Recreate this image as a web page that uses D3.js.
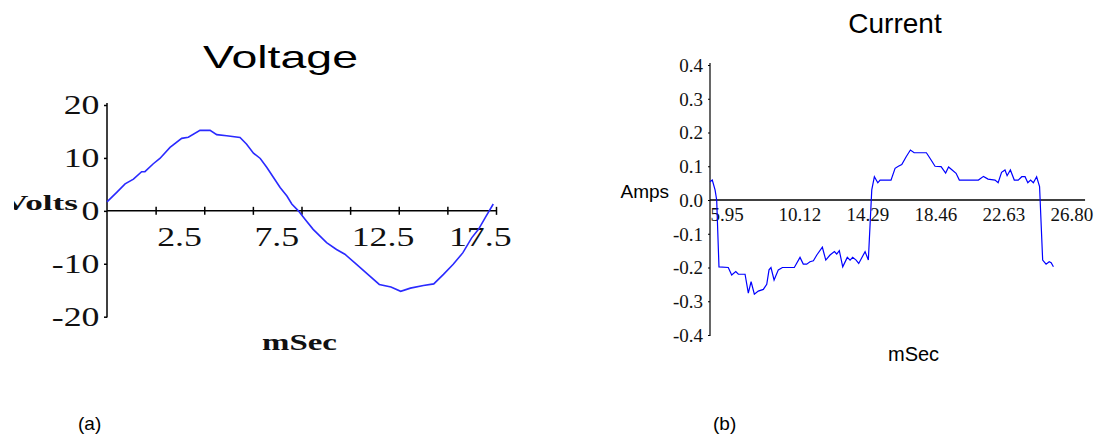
<!DOCTYPE html>
<html>
<head>
<meta charset="utf-8">
<script src="https://cdn.jsdelivr.net/npm/d3@7"></script>
<style>
  html, body { margin: 0; padding: 0; background: #fff; }
  svg { display: block; }
</style>
</head>
<body>
<script>
// ---------- Data ----------
// Voltage (panel a): time in ms, volts
const voltTime = [0, 0.5, 0.93, 1.36, 1.78, 1.95, 2.38, 2.72, 3.24, 3.84, 4.18, 4.78, 5.3, 5.64, 6.15, 6.84, 7.18, 7.53, 7.88, 8.22, 8.56, 8.9, 9.25, 9.5, 9.84, 10.18, 10.6, 11.29, 11.8, 12.23, 12.83, 13.5, 14.0, 14.6, 15.1, 15.6, 16.27, 16.8, 17.3, 17.8, 18.3, 18.75, 19.1, 19.5, 19.86];
const voltValues = [1.7, 3.5, 5.1, 6.0, 7.4, 7.4, 8.9, 9.9, 12.0, 13.7, 13.9, 15.2, 15.2, 14.4, 14.2, 13.85, 12.6, 10.9, 9.9, 8.2, 6.3, 4.4, 2.8, 1.3, 0, -1.6, -3.5, -6.0, -7.3, -8.2, -10.1, -12.3, -13.9, -14.4, -15.2, -14.6, -14.1, -13.8, -12.0, -10.1, -7.9, -5.1, -3.5, -0.95, 1.3];
const voltYTicks = [-20, -10, 0, 10, 20];
const voltXTicks = [2.5, 5, 7.5, 10, 12.5, 15, 17.5, 20];
const voltXLabels = [2.5, 7.5, 12.5, 17.5];

// Current (panel b): time in ms, amps
const currTime = [5.95, 6.09, 6.26, 6.36, 6.50, 7.07, 7.28, 7.53, 7.69, 8.10, 8.30, 8.47, 8.67, 8.91, 9.22, 9.43, 9.57, 9.69, 9.88, 10.14, 10.39, 11.12, 11.47, 11.67, 11.88, 12.08, 12.29, 12.50, 12.84, 13.05, 13.31, 13.58, 13.72, 13.88, 14.09, 14.37, 14.54, 14.70, 14.91, 15.07, 15.46, 15.66, 15.87, 16.03, 16.24, 16.38, 17.05, 17.30, 17.50, 17.71, 17.98, 18.24, 18.47, 19.22, 19.45, 19.75, 20.12, 20.40, 20.58, 20.80, 21.04, 21.24, 22.41, 22.72, 23.00, 23.43, 23.62, 23.83, 24.04, 24.17, 24.37, 24.61, 24.85, 25.07, 25.27, 25.44, 25.61, 25.78, 25.98, 26.16, 26.35, 26.56, 26.75, 26.87, 27.01];
const currValues = [0.054, 0.059, 0.03, 0.0, -0.198, -0.2, -0.222, -0.212, -0.22, -0.22, -0.276, -0.242, -0.279, -0.27, -0.265, -0.25, -0.207, -0.2, -0.237, -0.207, -0.2, -0.2, -0.17, -0.19, -0.19, -0.183, -0.18, -0.163, -0.14, -0.178, -0.163, -0.153, -0.16, -0.15, -0.198, -0.17, -0.178, -0.17, -0.178, -0.188, -0.153, -0.178, 0.03, 0.069, 0.051, 0.059, 0.059, 0.094, 0.1, 0.105, 0.128, 0.148, 0.14, 0.14, 0.123, 0.1, 0.099, 0.08, 0.098, 0.089, 0.079, 0.059, 0.059, 0.07, 0.062, 0.059, 0.051, 0.082, 0.089, 0.072, 0.089, 0.059, 0.059, 0.069, 0.069, 0.051, 0.059, 0.051, 0.069, 0.04, -0.178, -0.19, -0.183, -0.186, -0.198];
const currYTicks = [-0.4, -0.3, -0.2, -0.1, 0.0, 0.1, 0.2, 0.3, 0.4];
const currXTicks = [5.95, 10.12, 14.29, 18.46, 22.63, 26.80];

// ---------- SVG ----------
const svg = d3.select("body").append("svg")
  .attr("width", 1110).attr("height", 439);

const SERIF = "'Liberation Serif', 'Times New Roman', serif";
const SANS = "'Liberation Sans', Arial, Helvetica, sans-serif";

// ===== Panel (a): Voltage =====
const vx = d3.scaleLinear().domain([0, 20]).range([107, 496]);
const vy = d3.scaleLinear().domain([-20, 20]).range([316.7, 105]);
const gA = svg.append("g");

// title
gA.append("text").attr("x", 203).attr("y", 68)
  .attr("font-family", SANS).attr("font-size", 32)
  .attr("textLength", 155).attr("lengthAdjust", "spacingAndGlyphs")
  .text("Voltage");

// y axis
const yAxA = gA.append("g").attr("transform", `translate(${vx(0)},0)`)
  .call(d3.axisLeft(vy).tickValues(voltYTicks).tickSize(3).tickPadding(0)
    .tickFormat(d => String(d).replace("\u2212", "-")));
yAxA.select(".domain").remove();
gA.append("line").attr("x1", vx(0)).attr("x2", vx(0))
  .attr("y1", 103).attr("y2", 317.5).attr("stroke", "#000").attr("stroke-width", 1.5);
yAxA.selectAll(".tick line").attr("stroke-width", 1.5);
yAxA.selectAll(".tick text")
  .attr("x", null).attr("dy", "0.32em")
  .attr("transform", "translate(-7.5,0) scale(1.28,1)")
  .attr("font-family", SERIF).attr("font-size", 28).attr("fill", "#111")
  .attr("text-anchor", "end");

// x axis
const xAxA = gA.append("g").attr("transform", `translate(0,${vy(0)})`)
  .call(d3.axisBottom(vx).tickValues(voltXTicks).tickSize(4).tickPadding(0)
    .tickFormat(d => voltXLabels.includes(d) ? String(d) : ""));
xAxA.select(".domain").remove();
gA.append("line").attr("x1", vx(0)).attr("x2", vx(20))
  .attr("y1", vy(0)).attr("y2", vy(0)).attr("stroke", "#000").attr("stroke-width", 1.5);
xAxA.selectAll(".tick line").attr("y1", -4).attr("y2", 4).attr("stroke-width", 1.5);
xAxA.selectAll(".tick text")
  .attr("y", null).attr("dy", null)
  .attr("transform", "translate(1,35) scale(1.28,1)")
  .attr("font-family", SERIF).attr("font-size", 28).attr("fill", "#111")
  .attr("text-anchor", "start");

// axis labels
svg.append("defs").append("clipPath").attr("id", "clipVolts")
  .append("rect").attr("x", 14).attr("y", 150).attr("width", 100).attr("height", 100);
gA.append("text").attr("x", 3).attr("y", 210)
  .attr("clip-path", "url(#clipVolts)")
  .attr("font-family", SERIF).attr("font-weight", "bold").attr("font-size", 21)
  .attr("textLength", 75).attr("lengthAdjust", "spacingAndGlyphs")
  .attr("fill", "#111")
  .text("Volts");
gA.append("text").attr("x", 262).attr("y", 350)
  .attr("font-family", SERIF).attr("font-weight", "bold").attr("font-size", 23)
  .attr("textLength", 75).attr("lengthAdjust", "spacingAndGlyphs")
  .attr("fill", "#111")
  .text("mSec");

// line
gA.append("path")
  .datum(voltTime.map((t, i) => [t, voltValues[i]]))
  .attr("fill", "none").attr("stroke", "#2a2aff").attr("stroke-width", 1.6)
  .attr("d", d3.line().x(d => vx(d[0])).y(d => vy(d[1])));

gA.append("text").attr("x", 78).attr("y", 430)
  .attr("font-family", SANS).attr("font-size", 19).text("(a)");

// ===== Panel (b): Current =====
const cx = d3.scaleLinear().domain([5.95, 26.80]).range([710, 1050]);
const cy = d3.scaleLinear().domain([-0.4, 0.4]).range([335, 65]);
const gB = svg.append("g");

gB.append("text").attr("x", 895).attr("y", 33).attr("text-anchor", "middle")
  .attr("font-family", SANS).attr("font-size", 28).text("Current");

const fmt1 = d => (d < 0 ? "-" : "") + Math.abs(d).toFixed(1);
const yAxB = gB.append("g").attr("transform", `translate(${cx(5.95)},0)`)
  .call(d3.axisLeft(cy).tickValues(currYTicks).tickSize(2).tickPadding(5).tickFormat(fmt1));
yAxB.select(".domain").remove();
gB.append("line").attr("x1", cx(5.95)).attr("x2", cx(5.95))
  .attr("y1", 63).attr("y2", 336).attr("stroke", "#000").attr("stroke-width", 1.2);
yAxB.selectAll(".tick text")
  .attr("font-family", SERIF).attr("font-size", 19).attr("fill", "#111").attr("dy", "0.33em");

const xAxB = gB.append("g").attr("transform", `translate(0,${cy(0)})`)
  .call(d3.axisBottom(cx).tickValues(currXTicks).tickSize(0).tickPadding(0)
    .tickFormat(d => d.toFixed(2)));
xAxB.select(".domain").remove();
gB.append("line").attr("x1", cx(5.95)).attr("x2", cx(28.95))
  .attr("y1", cy(0)).attr("y2", cy(0)).attr("stroke", "#000").attr("stroke-width", 1.4);
xAxB.selectAll(".tick text")
  .attr("text-anchor", "start").attr("y", 20.7).attr("dy", null)
  .attr("font-family", SERIF).attr("font-size", 19).attr("fill", "#111");

gB.append("text").attr("x", 620.5).attr("y", 197.7)
  .attr("font-family", SANS).attr("font-size", 19).text("Amps");
gB.append("text").attr("x", 888).attr("y", 360.7)
  .attr("font-family", SANS).attr("font-size", 20).text("mSec");

gB.append("path")
  .datum(currTime.map((t, i) => [t, currValues[i]]))
  .attr("fill", "none").attr("stroke", "#0000ff").attr("stroke-width", 1.2)
  .attr("d", d3.line().x(d => cx(d[0])).y(d => cy(d[1])));

gB.append("text").attr("x", 713).attr("y", 430)
  .attr("font-family", SANS).attr("font-size", 19).text("(b)");
</script>
</body>
</html>
